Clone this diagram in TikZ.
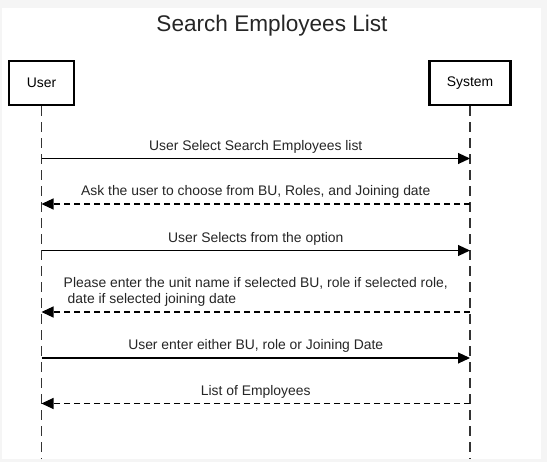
\documentclass[tikz,border=0pt]{standalone}
\usepackage{fontspec}
\setmainfont{Liberation Sans}
\usetikzlibrary{arrows.meta}
\begin{document}
\begin{tikzpicture}[x=1pt,y=-1pt,
  actor/.style={draw=black, line width=2.2pt, fill=white, minimum height=44pt, font=\fontsize{13.9}{16}\selectfont, inner sep=0pt},
  lifeline/.style={draw=black!80, line width=1.2pt, dash pattern=on 10pt off 6pt},
  msg/.style={draw=black, line width=1.1pt, -{Triangle[length=12pt,width=11pt]}},
  reply/.style={msg, dash pattern=on 6pt off 4pt},
  lbl/.style={font=\fontsize{13.9}{16}\selectfont, inner sep=0pt, text=black!85},
  ttl/.style={font=\fontsize{22.6}{26}\selectfont, inner sep=0pt, text=black!85}]
\fill[black!4] (0,0) rectangle (547,462);
\fill[white] (2,8) rectangle (541,459);
\useasboundingbox (0,0) rectangle (547,462);

\node[ttl] (title) at (272,26) {Search Employees List};
\node[actor, minimum width=65pt] (user) at (41.5,83) {User};
\node[actor, minimum width=81pt] (system) at (470,83) {System};

\coordinate (uend) at (41.5,459);
\coordinate (send) at (470,459);
\draw[lifeline] (user.south) -- (uend);
\draw[lifeline] (system.south) -- (send);

\foreach \n/\y in {1/158.5,2/204,3/250.5,4/312,5/358,6/403.5}{
  \coordinate (u\n) at (41.5,\y);
  \coordinate (s\n) at (470,\y);
}

\draw[msg] (u1) -- (s1) node[lbl, midway, yshift=11.5pt] (m1) {User Select Search Employees list};
\draw[reply] (s2) -- (u2) node[lbl, midway, yshift=12pt] (m2) {Ask the user to choose from BU, Roles, and Joining date};
\draw[msg] (u3) -- (s3) node[lbl, midway, yshift=11.5pt] (m3) {User Selects from the option};
\draw[reply] (s4) -- (u4) node[lbl, midway, yshift=20pt, align=left, font=\fontsize{13.9}{16}\selectfont] (m4) {Please enter the unit name if selected BU, role if selected role,\\\hspace*{4pt}date if selected joining date};
\draw[msg] (u5) -- (s5) node[lbl, midway, yshift=12pt] (m5) {User enter either BU, role or Joining Date};
\draw[reply] (s6) -- (u6) node[lbl, midway, yshift=12pt] (m6) {List of Employees};
\end{tikzpicture}
\end{document}
